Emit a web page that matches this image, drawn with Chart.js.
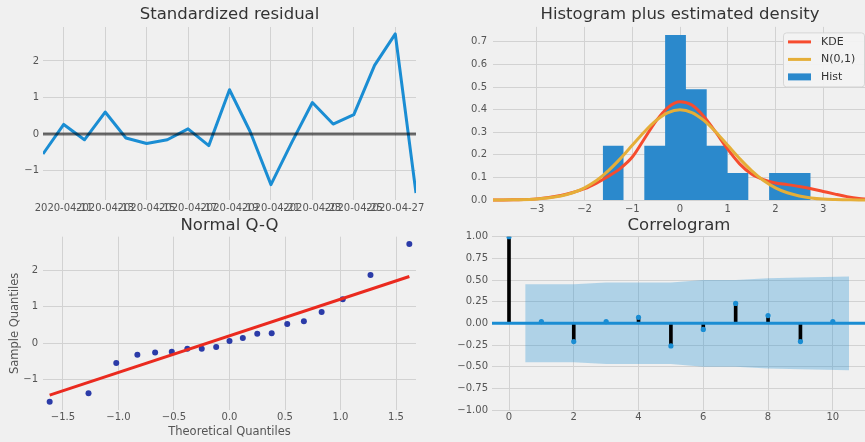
<!DOCTYPE html>
<html>
<head>
<meta charset="utf-8">
<script src="https://cdn.jsdelivr.net/npm/chart.js@4.4.1/dist/chart.umd.min.js"></script>
<style>
  html, body { margin: 0; padding: 0; background: #f0f0f0; width: 865px; height: 442px; overflow: hidden; }
  .panel { position: absolute; }
</style>
</head>
<body>
<canvas id="resid" class="panel" width="430" height="220" style="left:0;top:0"></canvas>
<canvas id="hist" class="panel" width="440" height="220" style="left:430px;top:0"></canvas>
<canvas id="qq" class="panel" width="430" height="227" style="left:0;top:215px"></canvas>
<canvas id="acf" class="panel" width="440" height="227" style="left:430px;top:215px"></canvas>
<script>
// ---- data ----
const dates = ['2020-04-10','2020-04-11','2020-04-12','2020-04-13','2020-04-14','2020-04-15','2020-04-16',
  '2020-04-17','2020-04-18','2020-04-19','2020-04-20','2020-04-21','2020-04-22','2020-04-23','2020-04-24',
  '2020-04-25','2020-04-26','2020-04-27','2020-04-28'];
const residuals = [-0.55, 0.26, -0.16, 0.60, -0.11, -0.26, -0.16, 0.14, -0.32, 1.21,
  0.06, -1.39, -0.24, 0.86, 0.27, 0.53, 1.88, 2.74, -1.62];
const dateTicks = ['2020-04-11','2020-04-13','2020-04-15','2020-04-17','2020-04-19',
  '2020-04-21','2020-04-23','2020-04-25','2020-04-27'];
const residTicksY = [-1, 0, 1, 2];

// histogram (density) with bin edges
const binEdges = [-1.62, -1.184, -0.748, -0.312, 0.124, 0.56, 0.996, 1.432, 1.868, 2.304, 2.74];
const binDensity = [0.24, 0, 0.24, 0.73, 0.49, 0.24, 0.12, 0, 0.12, 0.12];
const curveX = [-3.92, -3.5, -3.0, -2.5, -2.25, -2.0, -1.75, -1.5, -1.25, -1.0, -0.75, -0.5, -0.25, 0.0,
  0.25, 0.5, 0.75, 1.0, 1.25, 1.5, 1.75, 2.0, 2.25, 2.5, 2.75, 3.0, 3.25, 3.5, 3.75, 3.92];
const kdeY = [0.000, 0.001, 0.005, 0.020, 0.033, 0.050, 0.075, 0.105, 0.140, 0.190, 0.270, 0.350, 0.410, 0.435,
  0.420, 0.370, 0.300, 0.225, 0.160, 0.115, 0.090, 0.075, 0.068, 0.060, 0.050, 0.038, 0.026, 0.015, 0.007, 0.004];
const normY = [0.000, 0.001, 0.004, 0.018, 0.032, 0.054, 0.086, 0.130, 0.183, 0.242, 0.301, 0.352, 0.387, 0.399,
  0.387, 0.352, 0.301, 0.242, 0.183, 0.130, 0.086, 0.054, 0.032, 0.018, 0.009, 0.004, 0.002, 0.001, 0.000, 0.000];
const histTicksX = [-3, -2, -1, 0, 1, 2, 3];
const histTicksY = [0, 0.1, 0.2, 0.3, 0.4, 0.5, 0.6, 0.7];

// normal Q-Q
const theoreticalQ = [-1.62, -1.27, -1.02, -0.83, -0.67, -0.52, -0.38, -0.25, -0.12, 0.0,
  0.12, 0.25, 0.38, 0.52, 0.67, 0.83, 1.02, 1.27, 1.62];
const qqLineX = [-1.62, 1.62];
const qqLineY = [-1.44, 1.84];
const qqTicksX = [-1.5, -1.0, -0.5, 0.0, 0.5, 1.0, 1.5];
const qqTicksY = [-1, 0, 1, 2];

// correlogram
const lags = [0, 1, 2, 3, 4, 5, 6, 7, 8, 9, 10];
const acfValues = [1.0, 0.02, -0.21, 0.02, 0.07, -0.26, -0.07, 0.23, 0.09, -0.21, 0.02];
const bandX = [0.5, 2, 3, 4, 5, 6, 7, 8, 9, 10.5];
const bandUpper = [0.45, 0.45, 0.47, 0.47, 0.47, 0.50, 0.50, 0.52, 0.53, 0.54];
const acfTicksX = [0, 2, 4, 6, 8, 10];
const acfTicksY = [-1, -0.75, -0.5, -0.25, 0, 0.25, 0.5, 0.75, 1];

// ---- styling helpers ----
const FONT = "'DejaVu Sans', 'Liberation Sans', sans-serif";
const GRID = '#d2d2d2';
const TICK = '#555555';
const C0 = '#1a8dd3';
Chart.defaults.font.family = FONT;
Chart.defaults.animation = false;

const fmt = (v, d) => (v < 0 ? '\u2212' : '') + Math.abs(v).toFixed(d);
const fixedTicks = list => scale => { scale.ticks = list.map(v => ({ value: v })); };
const tickFont = { size: 10, family: FONT };

function titleOpts(text, top, bottom) {
  return { display: true, text, color: '#333333', fullSize: false,
    font: { size: 16.5, family: FONT, weight: 'normal' }, padding: { top, bottom } };
}
function axis(opts) {
  const o = {
    type: 'linear', min: opts.min, max: opts.max, offset: false,
    afterBuildTicks: fixedTicks(opts.ticks),
    afterFit: opts.fit,
    grid: { color: GRID, lineWidth: 1, drawTicks: false, offset: false },
    border: { display: false },
    ticks: { color: TICK, font: tickFont, padding: opts.pad, autoSkip: false, maxRotation: 0,
      callback: opts.label },
  };
  if (opts.title) o.title = opts.title;
  return o;
}
const base = {
  responsive: false, animation: false, events: [],
  plugins: { legend: { display: false }, tooltip: { enabled: false } },
};

// ---- standardized residual ----
new Chart(document.getElementById('resid'), {
  type: 'line',
  data: { datasets: [
    { data: [{ x: 0, y: 0 }, { x: dates.length - 1, y: 0 }], borderColor: 'rgba(0,0,0,0.55)', borderWidth: 3,
      pointRadius: 0, order: 0 },
    { data: residuals.map((v, i) => ({ x: i, y: v })), borderColor: C0, borderWidth: 3, pointRadius: 0,
      tension: 0, borderJoinStyle: 'round', order: 1 },
  ] },
  options: { ...base,
    layout: { padding: { left: 0, right: 14, top: 0, bottom: 0 } },
    plugins: { ...base.plugins, title: titleOpts('Standardized residual', 5, 2.2) },
    scales: {
      x: axis({ min: 0, max: dates.length - 1, ticks: dateTicks.map(d => dates.indexOf(d)),
        fit: s => { s.height = 20; }, pad: 2, label: v => dates[v] }),
      y: axis({ min: -1.81, max: 2.93, ticks: residTicksY, fit: s => { s.width = 43; }, pad: 4,
        label: v => fmt(v, 0) }),
    },
  },
});

// ---- histogram plus estimated density ----
const legendBox = {
  id: 'legendBox',
  afterDatasetsDraw(chart) {
    const { ctx, chartArea: a } = chart;
    const x0 = a.right - 84, y0 = a.top + 5.5, w = 81, h = 54;
    ctx.save();
    ctx.fillStyle = 'rgba(243,243,243,0.92)';
    ctx.strokeStyle = '#d6d6d6';
    ctx.lineWidth = 1;
    ctx.beginPath();
    ctx.roundRect(x0 + 0.5, y0 + 0.5, w, h, 3);
    ctx.fill();
    ctx.stroke();
    ctx.font = '11px ' + FONT;
    ctx.textBaseline = 'middle';
    chart.data.datasets.slice().sort((p, q) => p.legendRank - q.legendRank).forEach((ds, i) => {
      const cy = y0 + 9.5 + i * 17.5;
      if (ds.fill) {
        ctx.fillStyle = ds.backgroundColor;
        ctx.fillRect(x0 + 5, cy - 3.5, 23, 7);
      } else {
        ctx.strokeStyle = ds.borderColor;
        ctx.lineWidth = 3;
        ctx.beginPath();
        ctx.moveTo(x0 + 5, cy);
        ctx.lineTo(x0 + 28, cy);
        ctx.stroke();
      }
      ctx.fillStyle = '#333333';
      ctx.fillText(ds.label, x0 + 38, cy);
    });
    ctx.restore();
  },
};
// histogram outline: each bin's density held from its left edge to the next edge
const histSteps = binEdges.map((x, i) => ({ x, y: binDensity[Math.min(i, binDensity.length - 1)] }));
new Chart(document.getElementById('hist'), {
  type: 'line',
  data: { datasets: [
    { label: 'N(0,1)', legendRank: 1, data: curveX.map((x, i) => ({ x, y: normY[i] })),
      borderColor: '#e5ae38', borderWidth: 3, pointRadius: 0, cubicInterpolationMode: 'monotone',
      fill: false, clip: false, order: 0 },
    { label: 'KDE', legendRank: 0, data: curveX.map((x, i) => ({ x, y: kdeY[i] })),
      borderColor: '#f64c2e', borderWidth: 3, pointRadius: 0, cubicInterpolationMode: 'monotone',
      fill: false, clip: false, order: 1 },
    { label: 'Hist', legendRank: 2, data: histSteps, stepped: 'before',
      backgroundColor: '#2b89cc', borderWidth: 0, pointRadius: 0, fill: 'origin', order: 2 },
  ] },
  options: { ...base,
    layout: { padding: { left: 0, right: 3, top: 0, bottom: 0 } },
    plugins: { ...base.plugins, title: titleOpts('Histogram plus estimated density', 5, 2.1),
      filler: { propagate: false } },
    scales: {
      x: axis({ min: -3.92, max: 3.92, ticks: histTicksX, fit: s => { s.height = 20; }, pad: 3,
        label: v => fmt(v, 0) }),
      y: axis({ min: 0, max: 0.766, ticks: histTicksY, fit: s => { s.width = 63; }, pad: 6,
        label: v => fmt(v, 1) }),
    },
  },
  plugins: [legendBox],
});

// ---- normal Q-Q ----
const sampleQ = residuals.slice().sort((p, q) => p - q);
new Chart(document.getElementById('qq'), {
  type: 'scatter',
  data: { datasets: [
    { type: 'line', data: qqLineX.map((x, i) => ({ x, y: qqLineY[i] })), borderColor: '#ea2a1f',
      borderWidth: 3, pointRadius: 0, order: 0 },
    { type: 'scatter', data: theoreticalQ.map((x, i) => ({ x, y: sampleQ[i] })), backgroundColor: '#2b3ba8',
      borderWidth: 0, pointRadius: 3, order: 1 },
  ] },
  options: { ...base,
    layout: { padding: { left: 0, right: 14, top: 0, bottom: 0 } },
    plugins: { ...base.plugins, title: titleOpts('Normal Q-Q', 1.1, 0.8) },
    scales: {
      x: axis({ min: -1.68, max: 1.68, ticks: qqTicksX, fit: s => { s.height = 32; }, pad: 1,
        label: v => fmt(v, 1),
        title: { display: true, text: 'Theoretical Quantiles', color: TICK,
          font: { size: 11.5, family: FONT }, padding: { top: 0, bottom: 3.1 } } }),
      y: axis({ min: -1.85, max: 2.94, ticks: qqTicksY, fit: s => { s.width = 43; }, pad: 5,
        label: v => fmt(v, 0),
        title: { display: true, text: 'Sample Quantiles', color: TICK,
          font: { size: 11.5, family: FONT }, padding: { top: 8.1, bottom: 0 } } }),
    },
  },
});

// ---- correlogram ----
const acfXMin = -0.525, acfXMax = 11.025;
new Chart(document.getElementById('acf'), {
  type: 'line',
  data: { datasets: [
    { type: 'scatter', data: lags.map((x, i) => ({ x, y: acfValues[i] })), backgroundColor: C0,
      borderWidth: 0, pointRadius: 2.6, order: 0 },
    { type: 'line', data: [{ x: acfXMin, y: 0 }, { x: acfXMax, y: 0 }], borderColor: C0, borderWidth: 3,
      pointRadius: 0, order: 1 },
    { type: 'bar', data: lags.map((x, i) => ({ x, y: acfValues[i] })), backgroundColor: '#000000',
      barThickness: 3, order: 2 },
    { type: 'line', data: bandX.map((x, i) => ({ x, y: bandUpper[i] })), borderWidth: 0, pointRadius: 0,
      fill: '+1', backgroundColor: 'rgba(26,141,211,0.3)', order: 3 },
    { type: 'line', data: bandX.map((x, i) => ({ x, y: -bandUpper[i] })), borderWidth: 0, pointRadius: 0,
      fill: false, order: 4 },
  ] },
  options: { ...base,
    layout: { padding: { left: 0, right: 4, top: 0, bottom: 0 } },
    plugins: { ...base.plugins, title: titleOpts('Correlogram', 1.1, 0.8), filler: { propagate: false } },
    scales: {
      x: axis({ min: acfXMin, max: acfXMax, ticks: acfTicksX, fit: s => { s.height = 32; }, pad: 1,
        label: v => fmt(v, 0) }),
      y: axis({ min: -1, max: 1, ticks: acfTicksY, fit: s => { s.width = 62; }, pad: 4,
        label: v => fmt(v, 2) }),
    },
  },
});
</script>
</body>
</html>
